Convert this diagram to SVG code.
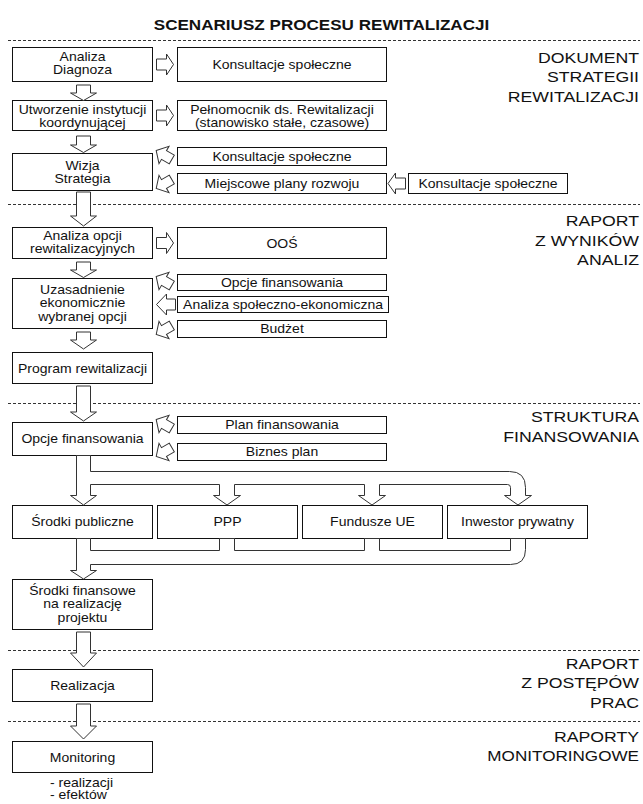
<svg xmlns="http://www.w3.org/2000/svg" width="643" height="804" viewBox="0 0 643 804">
<style>
.box{fill:#fff;stroke:#111;stroke-width:1}
.arr{fill:#fff;stroke:#333;stroke-width:1;stroke-linejoin:miter}
.dash{stroke:#333;stroke-width:1;stroke-dasharray:3 2;fill:none}
text{font-family:"Liberation Sans",Arial,sans-serif;fill:#111}
.t{font-size:12.5px;text-anchor:middle}
.n{font-size:12.5px;text-anchor:start}
.sec{font-size:14.5px;text-anchor:end}
.title{font-size:14px;font-weight:bold;text-anchor:middle}
</style>
<defs>
<path id="tilt" d="M-9,0 L0,-10 V-5 H9 V5 H0 V10 Z"/>
</defs>
<rect width="643" height="804" fill="#fff"/>
<text class="title" transform="translate(321.5 30) scale(1.22 1)">SCENARIUSZ PROCESU REWITALIZACJI</text>
<g id="separators">
<line class="dash" x1="8" y1="40.5" x2="640" y2="40.5"/>
<line class="dash" x1="8" y1="204.5" x2="640" y2="204.5"/>
<line class="dash" x1="8" y1="403.5" x2="640" y2="403.5"/>
<line class="dash" x1="8" y1="650.5" x2="640" y2="650.5"/>
<line class="dash" x1="8" y1="721.5" x2="640" y2="721.5"/>
</g>
<g id="section-labels">
<text class="sec" transform="translate(639 62.5) scale(1.22 1)">DOKUMENT</text>
<text class="sec" transform="translate(639 82) scale(1.22 1)">STRATEGII</text>
<text class="sec" transform="translate(639 101.5) scale(1.22 1)">REWITALIZACJI</text>
<text class="sec" transform="translate(639 226) scale(1.22 1)">RAPORT</text>
<text class="sec" transform="translate(639 245.5) scale(1.22 1)">Z WYNIKÓW</text>
<text class="sec" transform="translate(639 265) scale(1.22 1)">ANALIZ</text>
<text class="sec" transform="translate(639 422) scale(1.22 1)">STRUKTURA</text>
<text class="sec" transform="translate(639 441.5) scale(1.22 1)">FINANSOWANIA</text>
<text class="sec" transform="translate(639 668.5) scale(1.22 1)">RAPORT</text>
<text class="sec" transform="translate(639 688) scale(1.22 1)">Z POSTĘPÓW</text>
<text class="sec" transform="translate(639 707.5) scale(1.22 1)">PRAC</text>
<text class="sec" transform="translate(639 741.5) scale(1.22 1)">RAPORTY</text>
<text class="sec" transform="translate(639 760.5) scale(1.18 1)">MONITORINGOWE</text>
</g>
<g id="n1"><rect class="box" x="12.5" y="47.5" width="140" height="34"/><text class="t" transform="translate(82.5 61) scale(1.12 1)"><tspan x="0">Analiza</tspan><tspan x="0" dy="13.5">Diagnoza</tspan></text></g>
<g id="n2"><rect class="box" x="12.5" y="100.5" width="140" height="30"/><text class="t" transform="translate(82.5 114) scale(1.12 1)"><tspan x="0">Utworzenie instytucji</tspan><tspan x="0" dy="13">koordynującej</tspan></text></g>
<g id="n3"><rect class="box" x="12.5" y="153.5" width="140" height="37"/><text class="t" transform="translate(82.5 169.5) scale(1.12 1)"><tspan x="0">Wizja</tspan><tspan x="0" dy="13.5">Strategia</tspan></text></g>
<g id="n4"><rect class="box" x="12.5" y="227.5" width="140" height="31"/><text class="t" transform="translate(82.5 240) scale(1.12 1)"><tspan x="0">Analiza opcji</tspan><tspan x="0" dy="13">rewitalizacyjnych</tspan></text></g>
<g id="n5"><rect class="box" x="12.5" y="278.5" width="140" height="50"/><text class="t" transform="translate(82.5 294) scale(1.12 1)"><tspan x="0">Uzasadnienie</tspan><tspan x="0" dy="13.5">ekonomicznie</tspan><tspan x="0" dy="13.5">wybranej opcji</tspan></text></g>
<g id="n6"><rect class="box" x="12.5" y="352.5" width="140" height="31"/><text class="t" transform="translate(82.5 372.5) scale(1.12 1)">Program rewitalizacji</text></g>
<g id="n7"><rect class="box" x="12.5" y="422.5" width="140" height="33"/><text class="t" transform="translate(82.5 443) scale(1.12 1)">Opcje finansowania</text></g>
<g id="n8"><rect class="box" x="12.5" y="505.5" width="140" height="33"/><text class="t" transform="translate(82.5 526) scale(1.12 1)">Środki publiczne</text></g>
<g id="n9"><rect class="box" x="157.5" y="505.5" width="140" height="33"/><text class="t" transform="translate(227.5 526) scale(1.12 1)">PPP</text></g>
<g id="n10"><rect class="box" x="302.5" y="505.5" width="140" height="33"/><text class="t" transform="translate(372.5 526) scale(1.12 1)">Fundusze UE</text></g>
<g id="n11"><rect class="box" x="447.5" y="505.5" width="140" height="33"/><text class="t" transform="translate(517.5 526) scale(1.12 1)">Inwestor prywatny</text></g>
<g id="n12"><rect class="box" x="12.5" y="579.5" width="140" height="50"/><text class="t" transform="translate(82.5 595) scale(1.12 1)"><tspan x="0">Środki finansowe</tspan><tspan x="0" dy="13.5">na realizację</tspan><tspan x="0" dy="13.5">projektu</tspan></text></g>
<g id="n13"><rect class="box" x="12.5" y="669.5" width="140" height="32"/><text class="t" transform="translate(82.5 690) scale(1.12 1)">Realizacja</text></g>
<g id="n14"><rect class="box" x="12.5" y="741.5" width="140" height="31"/><text class="t" transform="translate(82.5 761.5) scale(1.12 1)">Monitoring</text><text class="n" transform="translate(50 787) scale(1.12 1)"><tspan x="0">- realizacji</tspan><tspan x="0" dy="12.5">- efektów</tspan></text></g>
<g id="r1"><rect class="box" x="177.5" y="47.5" width="209" height="34"/><text class="t" transform="translate(282 68.5) scale(1.12 1)">Konsultacje społeczne</text></g>
<g id="r2"><rect class="box" x="177.5" y="100.5" width="209" height="30"/><text class="t" transform="translate(282 114) scale(1.12 1)"><tspan x="0">Pełnomocnik ds. Rewitalizacji</tspan><tspan x="0" dy="13">(stanowisko stałe, czasowe)</tspan></text></g>
<g id="r3"><rect class="box" x="177.5" y="147.5" width="209" height="18"/><text class="t" transform="translate(282 161) scale(1.12 1)">Konsultacje społeczne</text></g>
<g id="r4"><rect class="box" x="177.5" y="173.5" width="209" height="20"/><text class="t" transform="translate(282 188) scale(1.12 1)">Miejscowe plany rozwoju</text></g>
<g id="r5"><rect class="box" x="408.5" y="173.5" width="159" height="20"/><text class="t" transform="translate(488 188) scale(1.12 1)">Konsultacje społeczne</text></g>
<g id="r6"><rect class="box" x="177.5" y="227.5" width="209" height="31"/><text class="t" transform="translate(282 247.5) scale(1.12 1)">OOŚ</text></g>
<g id="r7"><rect class="box" x="177.5" y="274.5" width="209" height="16"/><text class="t" transform="translate(282 287) scale(1.12 1)">Opcje finansowania</text></g>
<g id="r8"><rect class="box" x="177.5" y="296.5" width="211" height="16"/><text class="t" transform="translate(283 308.5) scale(1.12 1)">Analiza społeczno-ekonomiczna</text></g>
<g id="r9"><rect class="box" x="177.5" y="320.5" width="209" height="17"/><text class="t" transform="translate(282 333) scale(1.12 1)">Budżet</text></g>
<g id="r10"><rect class="box" x="177.5" y="416.5" width="209" height="17"/><text class="t" transform="translate(282 429) scale(1.12 1)">Plan finansowania</text></g>
<g id="r11"><rect class="box" x="177.5" y="443.5" width="209" height="17"/><text class="t" transform="translate(282 456) scale(1.12 1)">Biznes plan</text></g>
<g id="connectors">
<path class="arr" d="M76.5,85 H90.5 V93 H96.5 L83.5,100.5 L70.5,93 H76.5 Z"/>
<path class="arr" d="M76.5,136 H90.5 V145 H96.5 L83.5,152.5 L70.5,145 H76.5 Z"/>
<path class="arr" d="M76.5,192 H90.5 V216 H96.5 L83.5,226 L70.5,216 H76.5 Z"/>
<path class="arr" d="M76.5,262 H90.5 V270 H96.5 L83.5,277.5 L70.5,270 H76.5 Z"/>
<path class="arr" d="M76.5,332 H90.5 V340 H96.5 L83.5,349 L70.5,340 H76.5 Z"/>
<path class="arr" d="M76.5,386 H90.5 V412 H96.5 L83.5,421 L70.5,412 H76.5 Z"/>
<path class="arr" d="M76.5,632 H90.5 V653 H96.5 L83.5,667 L70.5,653 H76.5 Z"/>
<path class="arr" d="M76.5,704 H90.5 V726 H96.5 L83.5,739 L70.5,726 H76.5 Z"/>
<path class="arr" d="M156.5,59 H166.5 V54 L173.5,64.5 L166.5,75 V70 H156.5 Z"/>
<path class="arr" d="M156.5,110 H166.5 V105 L173.5,115.5 L166.5,126 V121 H156.5 Z"/>
<path class="arr" d="M156.5,237.5 H166.5 V232.5 L173.5,243 L166.5,253.5 V248.5 H156.5 Z"/>
<path class="arr" d="M175.5,299 H166.5 V294 L156.5,304.5 L166.5,315 V310 H175.5 Z"/>
<path class="arr" d="M405.5,178 H395.5 V173 L388,183.5 L395.5,194 V189 H405.5 Z"/>
<use href="#tilt" class="arr" transform="translate(164 155) rotate(30)"/>
<use href="#tilt" class="arr" transform="translate(164 184) rotate(-30)"/>
<use href="#tilt" class="arr" transform="translate(164 281) rotate(30)"/>
<use href="#tilt" class="arr" transform="translate(164 330) rotate(-30)"/>
<use href="#tilt" class="arr" transform="translate(164 424) rotate(30)"/>
<use href="#tilt" class="arr" transform="translate(164 452) rotate(-30)"/>
<path class="arr" d="M76.5,455.5 V495.5 H70.5 L83.5,505 L96.5,495.5 H90.5 V484.5 H219.5 V495.5 H213.5 L227,505 L240.5,495.5 H234.5 V484.5 H364.5 V495.5 H358.5 L372,505 L385.5,495.5 H379.5 V484.5 H507.5 Q510.5,484.5 510.5,487.5 V495.5 H504.5 L518,505 L531.5,495.5 H525.5 V487.5 Q525.5,471.5 509.5,471.5 H90.5 V455.5 Z"/>
<path class="arr" d="M76.5,538.5 H90.5 V550.5 H219.5 V538.5 H234.5 V550.5 H364.5 V538.5 H379.5 V550.5 H510.5 V538.5 H525.5 V549.5 Q525.5,564.5 510.5,564.5 H90.5 V570.5 H96.5 L83.5,579 L70.5,570.5 H76.5 Z"/>
</g>
</svg>
